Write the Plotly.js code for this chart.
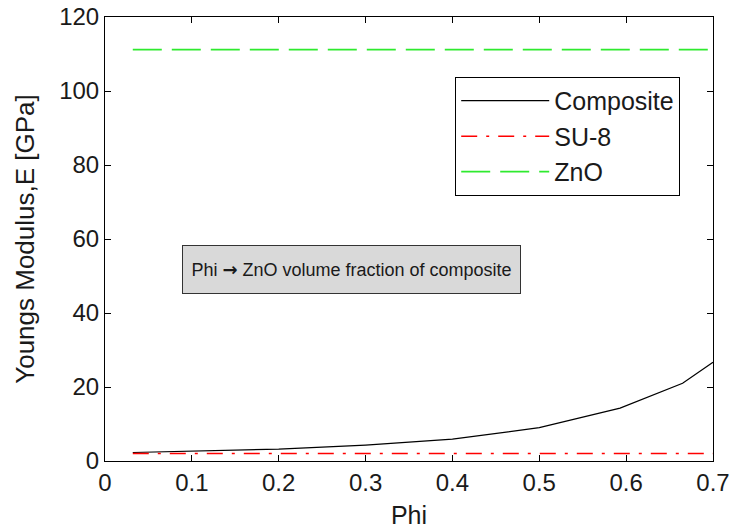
<!DOCTYPE html>
<html>
<head>
<meta charset="utf-8">
<script src="https://cdn.plot.ly/plotly-3.0.1.min.js"></script>
<style>html,body{margin:0;padding:0;background:#fff;}#chart{width:734px;height:529px;}</style>
</head>
<body>
<div id="chart"></div>
<script>
// Composite curve
const phiComposite = [0.032, 0.1, 0.2, 0.3, 0.4, 0.5, 0.593, 0.665, 0.7];
const eComposite   = [2.3, 2.6, 3.2, 4.3, 5.9, 9.0, 14.3, 21.0, 26.7];
// Constant reference lines
const phiRef = [0.032, 0.7];
const eSU8   = [2.0, 2.0];
const eZnO   = [111.2, 111.2];
const seriesNames = ["Composite", "SU-8", "ZnO"];
const noteText = "Phi <span style=\"font-family:'DejaVu Sans';font-weight:bold\">\u2192</span> ZnO volume fraction of composite";

const FONT = "Liberation Sans, Arial, sans-serif";
const INK = "#1a1a1a";
const traces = [
  {x: phiComposite, y: eComposite, name: seriesNames[0], mode: "lines",
   line: {color: "#000000", width: 1.2}, legendgroup: "a"},
  {x: phiRef, y: eSU8, name: seriesNames[1], mode: "lines",
   line: {color: "#ff0000", width: 1.5, dash: "16px,9px,3px,9px"}, legendgroup: "b"},
  {x: phiRef, y: eZnO, name: seriesNames[2], mode: "lines",
   line: {color: "#2eea2e", width: 1.8, dash: "29px,10px"}, legendgroup: "c"}
];
const axisCommon = {
  showline: true, linecolor: "#000", linewidth: 1, mirror: "ticks",
  ticks: "inside", ticklen: 6, tickcolor: "#000", tickwidth: 1,
  showgrid: false, zeroline: false,
  tickfont: {family: FONT, size: 24, color: INK}
};
const layout = {
  width: 734, height: 529,
  margin: {l: 105, r: 21, t: 17, b: 68},
  paper_bgcolor: "#fff", plot_bgcolor: "#fff",
  font: {family: FONT, size: 24, color: INK},
  xaxis: Object.assign({}, axisCommon, {
    range: [0, 0.7], dtick: 0.1, tick0: 0,
    title: {text: "Phi", font: {family: FONT, size: 25, color: INK}, standoff: 13}
  }),
  yaxis: Object.assign({}, axisCommon, {
    range: [0, 120], dtick: 20, tick0: 0,
    title: {text: "Youngs Modulus,E [GPa]", font: {family: FONT, size: 26, color: INK}, standoff: 17}
  }),
  showlegend: true,
  legend: {
    x: 0.576, y: 0.865, xanchor: "left", yanchor: "top",
    bordercolor: "#000", borderwidth: 1, bgcolor: "#fff",
    font: {family: FONT, size: 25, color: INK},
    traceorder: "grouped", tracegroupgap: 0, itemwidth: 88
  },
  annotations: [{
    xref: "paper", yref: "paper", x: 0.1266, y: 0.4313,
    xanchor: "left", yanchor: "middle", showarrow: false,
    text: noteText, font: {family: FONT, size: 18, color: INK},
    width: 329, height: 39, align: "center",
    bgcolor: "#d9d9d9", bordercolor: "#333", borderwidth: 1, borderpad: 4
  }]
};
Plotly.newPlot("chart", traces, layout, {staticPlot: true});
</script>
</body>
</html>
